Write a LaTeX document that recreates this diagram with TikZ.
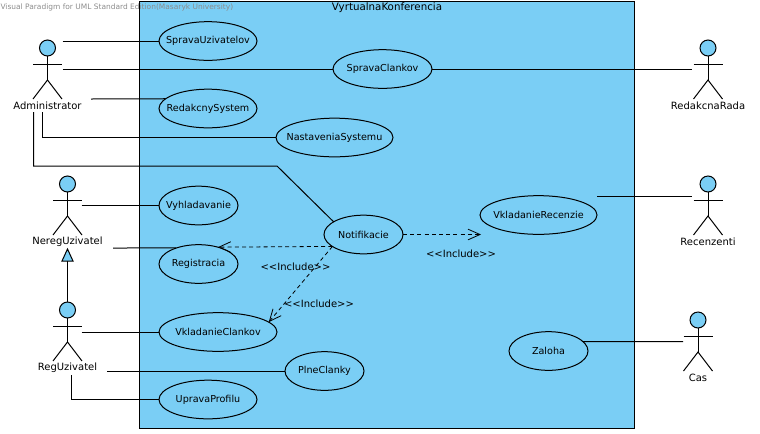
\documentclass[tikz,border=0pt]{standalone}
\usepackage{fontspec}
\setmainfont{DejaVu Sans}
\usetikzlibrary{arrows.meta,shapes.geometric}
\definecolor{p1}{HTML}{7ACEF5}
\tikzset{
	usecase/.style={draw, ellipse, inner sep=-1cm, outer sep=0pt, minimum height=29pt, font=\fontsize{7.2}{9}\selectfont},
	actorlabel/.style={inner sep=0pt, font=\fontsize{7.5}{9}\selectfont},
	assoc/.style={draw, line width=0.75pt},
	incl/.style={draw, line width=0.6pt, dash pattern=on 3pt off 2.4pt, -{Straight Barb[length=9pt,width=8pt,line width=0.6pt]}}
}
\newcommand{\inclabel}{{<}{<}Include{>}{>}}
\begin{document}
\begin{tikzpicture}[x=0.75pt, y=-0.75pt, line width=0.75pt]
			\useasboundingbox (0,0) rectangle (760,433);

			% system box
			\draw[fill=p1] (139.5,1) rectangle (634.5,428);
			\node[inner sep=0pt, font=\fontsize{7.7}{9}\selectfont] (title) at (387,8) {VyrtualnaKonferencia};
			\node[inner sep=0pt, anchor=west, text=black!45, font=\fontsize{5.6}{7}\selectfont] (wmark) at (0,7.5) {Visual Paradigm for UML Standard Edition(Masaryk University)};

			% actors
			\foreach \name/\x/\y/\ly/\txt in {admin/47.5/48/106/Administrator, nereg/67.5/184/242/NeregUzivatel, reg/67.5/310/368/RegUzivatel, rada/708/48/106/RedakcnaRada, recen/708/184/242/Recenzenti, cas/698/320/378/Cas}{
				\draw[fill=p1] (\x,\y) circle (6pt);
				\draw (\x,\y+8) -- (\x,\y+32);
				\draw (\x-14.5,\y+16) -- (\x+14.5,\y+16);
				\draw (\x-14.5,\y+51) -- (\x,\y+32) -- (\x+14.5,\y+51);
				\node[actorlabel] (\name) at (\x,\ly) {\txt};
			}

			% use cases
			\node[usecase, minimum width=73.5pt] (spravauz) at (208,41) {SpravaUzivatelov};
			\node[usecase, minimum width=74.25pt] (spravacl) at (382.5,69) {SpravaClankov};
			\node[usecase, minimum width=73.5pt] (redsys) at (208,108.5) {RedakcnySystem};
			\node[usecase, minimum width=87.75pt] (nastav) at (334.5,137.5) {NastaveniaSystemu};
			\node[usecase, minimum width=59.25pt] (vyhlad) at (198.5,205.5) {Vyhladavanie};
			\node[usecase, minimum width=59.25pt] (regis) at (198.5,264) {Registracia};
			\node[usecase, minimum width=88.5pt] (vkladcl) at (218,332) {VkladanieClankov};
			\node[usecase, minimum width=59.25pt] (plne) at (324.5,371) {PlneClanky};
			\node[usecase, minimum width=73.5pt] (uprava) at (208,399.5) {UpravaProfilu};
			\node[usecase, minimum width=59.25pt] (notif) at (363.5,234.5) {Notifikacie};
			\node[usecase, minimum width=87.75pt] (vkladre) at (538.5,215) {VkladanieRecenzie};
			\node[usecase, minimum width=59.25pt] (zaloha) at (548.5,351) {Zaloha};

			% free ends of the lines
			\coordinate (a1) at (62.5,41);
			\coordinate (a2) at (62.5,69);
			\coordinate (a3) at (91,99);
			\coordinate (a4) at (42,112);
			\coordinate (a5) at (33.5,112);
			\coordinate (a6) at (277,166);
			\coordinate (r1) at (692,69);
			\coordinate (n1) at (81.5,205.5);
			\coordinate (n2) at (113,248);
			\coordinate (g1) at (67.5,302);
			\coordinate (g2) at (67.5,261);
			\coordinate (g3) at (62,261);
			\coordinate (g4) at (73,261);
			\coordinate (g5) at (67.5,249);
			\coordinate (u1) at (81.5,332);
			\coordinate (u2) at (107,371);
			\coordinate (u3) at (71.5,375);
			\coordinate (c1) at (597,196);
			\coordinate (c2) at (692,196);
			\coordinate (t1) at (683,341.5);
			\coordinate (d1) at (481,234.5);

			% associations
			\draw[assoc] (a1) -- (spravauz.west);
			\draw[assoc] (a2) -- (spravacl.west);
			\draw[assoc] (spravacl.east) -- (r1);
			\draw[assoc] (a3) -- (redsys.167.5);
			\draw[assoc] (a4) |- (nastav.west);
			\draw[assoc] (a5) |- (a6) -- (notif.157.6);
			\draw[assoc] (n1) -- (vyhlad.west);
			\draw[assoc] (n2) -- (regis.144.6);
			\draw[assoc] (u1) -- (vkladcl.west);
			\draw[assoc] (u2) -- (plne.west);
			\draw[assoc] (u3) |- (uprava.west);
			\draw[assoc] (c1) -- (c2);
			\draw[assoc] (zaloha.15.4) -- (t1);

			% generalization
			\draw[assoc] (g1) -- (g2);
			\draw[fill=p1] (g3) -- (g4) -- (g5) -- cycle;

			% includes
			\draw[incl] (notif.east) -- (d1);
			\draw[incl] (notif.201.5) -- (regis.41.4);
			\draw[incl] (notif.201.5) -- (vkladcl.11.1);
			\node[actorlabel] (inc1) at (461,254) {\inclabel};
			\node[actorlabel] (inc2) at (295.5,267) {\inclabel};
			\node[actorlabel] (inc3) at (319,304) {\inclabel};

		\end{tikzpicture}
\end{document}
